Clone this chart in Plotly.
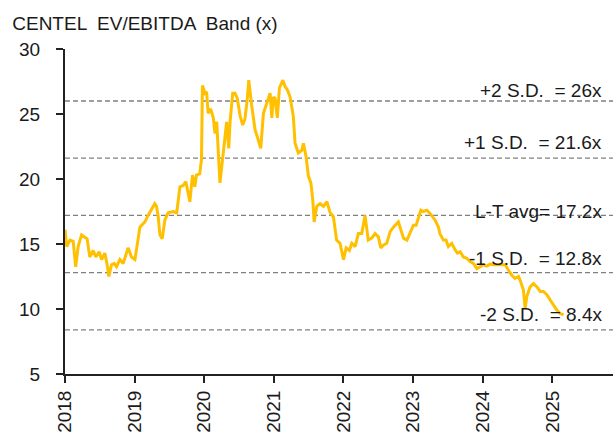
import plotly.graph_objects as go

dates = [
    "2018-01-01","2018-01-10","2018-01-27","2018-02-13","2018-02-26","2018-03-11","2018-03-29","2018-04-15","2018-04-27","2018-05-11","2018-05-29","2018-06-12","2018-06-29","2018-07-12","2018-07-29","2018-08-12","2018-08-19","2018-09-02","2018-09-16","2018-09-28","2018-10-16","2018-11-02","2018-11-28","2018-12-16",
    "2019-01-03","2019-01-29","2019-02-24","2019-03-13","2019-03-26","2019-04-17","2019-04-26","2019-05-05","2019-05-14","2019-05-26","2019-06-09","2019-06-26","2019-07-23","2019-08-10","2019-08-27","2019-09-13","2019-09-27","2019-10-09","2019-10-18","2019-11-01","2019-11-13","2019-11-22","2019-12-09","2019-12-18","2019-12-23",
    "2020-01-05","2020-01-14","2020-01-22","2020-02-04","2020-02-18","2020-02-27","2020-03-07","2020-03-15","2020-03-24","2020-04-02","2020-04-14","2020-04-28","2020-05-09","2020-05-16","2020-05-30","2020-06-11","2020-06-23","2020-07-07","2020-07-21","2020-08-02","2020-08-14","2020-08-22","2020-09-06","2020-09-24","2020-10-11","2020-10-24","2020-11-07","2020-11-25","2020-12-12","2020-12-21","2020-12-29",
    "2021-01-07","2021-01-19","2021-01-30","2021-02-17","2021-03-01","2021-03-13","2021-03-27","2021-04-13","2021-04-22","2021-05-09","2021-05-27","2021-06-05","2021-06-19","2021-07-01","2021-07-14","2021-07-24","2021-07-31","2021-08-14","2021-08-31","2021-09-18","2021-10-06","2021-10-23","2021-11-09","2021-11-26","2021-12-14",
    "2022-01-01","2022-01-15","2022-02-01","2022-02-14","2022-03-03","2022-03-20","2022-04-07","2022-04-24","2022-05-11","2022-05-29","2022-06-16","2022-07-03","2022-07-16","2022-07-29","2022-08-16","2022-09-03","2022-09-20","2022-10-16","2022-10-29","2022-11-12","2022-11-30","2022-12-17",
    "2023-01-03","2023-01-17","2023-01-29","2023-02-11","2023-02-24","2023-03-14","2023-03-31","2023-04-09","2023-04-26","2023-05-14","2023-05-22","2023-06-09","2023-06-23","2023-07-05","2023-07-23","2023-08-10","2023-08-22","2023-09-05","2023-09-22","2023-10-10","2023-10-27","2023-11-14","2023-12-02","2023-12-19",
    "2024-01-05","2024-01-23","2024-02-09","2024-02-26","2024-03-15","2024-04-10","2024-04-28","2024-05-15","2024-06-02","2024-06-19","2024-07-07","2024-07-16","2024-08-02","2024-08-11","2024-08-20","2024-09-06","2024-09-24","2024-10-12","2024-10-29","2024-11-15","2024-12-03","2024-12-20",
    "2025-01-07","2025-01-25","2025-02-11","2025-03-01",
]

ev_ebitda = [
    16.1,14.8,15.3,15.2,13.25,14.8,15.7,15.55,15.4,14.0,14.5,14.0,14.4,13.8,14.3,13.25,12.5,13.4,13.5,13.25,13.8,13.5,14.7,14.0,
    13.8,16.3,16.7,17.2,17.5,18.1,17.9,17.1,15.7,15.4,16.85,17.4,17.5,17.4,19.4,19.5,19.8,18.9,18.25,20.3,19.4,20.3,20.4,21.5,27.2,
    26.6,26.7,25.05,25.4,24.7,23.5,24.4,22.0,19.7,20.9,22.75,24.4,22.35,24.4,26.6,26.6,26.2,24.9,24.15,24.6,26.1,27.6,25.7,23.8,23.0,22.35,25.05,25.95,26.6,24.7,26.3,
    26.2,24.7,27.0,27.6,27.1,26.85,26.3,24.8,22.75,22.0,22.2,22.75,21.7,20.2,19.7,18.4,16.7,17.9,18.1,17.9,18.25,17.4,17.1,15.3,15.05,
    13.8,14.7,14.5,15.05,14.8,15.8,15.8,17.2,15.3,15.45,15.8,15.55,14.7,14.9,15.05,15.95,16.3,16.7,16.1,15.45,15.3,15.95,
    16.45,16.45,17.1,17.6,17.5,17.6,17.35,17.2,16.85,16.3,15.8,15.3,15.3,14.8,15.05,14.55,14.3,14.4,14.0,13.9,13.65,13.5,13.1,13.25,
    13.4,13.3,13.45,13.4,13.4,13.45,13.4,13.0,12.6,12.35,12.5,12.2,11.45,10.05,10.95,11.7,11.95,11.7,11.35,11.35,11.1,10.7,
    10.3,9.9,9.65,9.55,
]

band_values = [26.0, 21.6, 17.2, 12.8, 8.4]
band_labels = ["+2 S.D.  = 26x", "+1 S.D.  = 21.6x", "L-T avg= 17.2x", "-1 S.D.  = 12.8x", "-2 S.D.  = 8.4x"]
label_shift = [11, 16, 4, 14, 15]  # pixel offsets of labels above lines

year_ticks = ["2018-01-01", "2019-01-01", "2020-01-01", "2021-01-01", "2022-01-01",
              "2023-01-01", "2024-01-01", "2025-01-01"]
year_labels = ["2018", "2019", "2020", "2021", "2022", "2023", "2024", "2025"]

FONT = "Liberation Sans, Arial, sans-serif"
TXT = "#1a1a1a"

fig = go.Figure()
fig.add_trace(go.Scatter(x=dates, y=ev_ebitda, mode="lines",
                         line=dict(color="#FFC000", width=3), showlegend=False))

for v, lab, sh in zip(band_values, band_labels, label_shift):
    fig.add_shape(type="line", xref="paper", x0=0, x1=1, yref="y", y0=v, y1=v,
                  line=dict(color="#808080", width=1.3, dash="5px,3px"), layer="below")
    fig.add_annotation(xref="paper", x=0.984, xanchor="right", yref="y", y=v,
                       yanchor="middle", yshift=sh, text=lab, showarrow=False,
                       font=dict(family=FONT, size=19, color=TXT))

fig.update_layout(
    width=613, height=434,
    margin=dict(l=65, r=0, t=49, b=60),
    paper_bgcolor="white", plot_bgcolor="white",
    title=dict(text="CENTEL  EV/EBITDA  Band (x)", xref="container", x=0.02, xanchor="left",
               yref="container", y=1 - 23 / 434, yanchor="middle",
               font=dict(family=FONT, size=19, color=TXT)),
    font=dict(family=FONT, size=19, color=TXT),
)
fig.update_xaxes(range=["2018-01-01", "2025-11-15"], tickvals=year_ticks, ticktext=year_labels,
                 tickangle=-90, showgrid=False, zeroline=False, showline=True,
                 linecolor="#222222", linewidth=2, ticks="outside", ticklen=7, tickwidth=2,
                 tickcolor="#222222", tickfont=dict(family=FONT, size=19, color=TXT))
fig.update_yaxes(range=[5, 30], dtick=5, tick0=5, showgrid=False, zeroline=False, showline=True,
                 linecolor="#222222", linewidth=2, ticks="outside", ticklen=7, tickwidth=2,
                 tickcolor="#222222", ticklabelstandoff=12,
                 tickfont=dict(family=FONT, size=19, color=TXT))

fig.write_html("out.html", config={"displayModeBar": False},
               post_script="document.body.style.margin='0';document.body.style.overflow='hidden';")
